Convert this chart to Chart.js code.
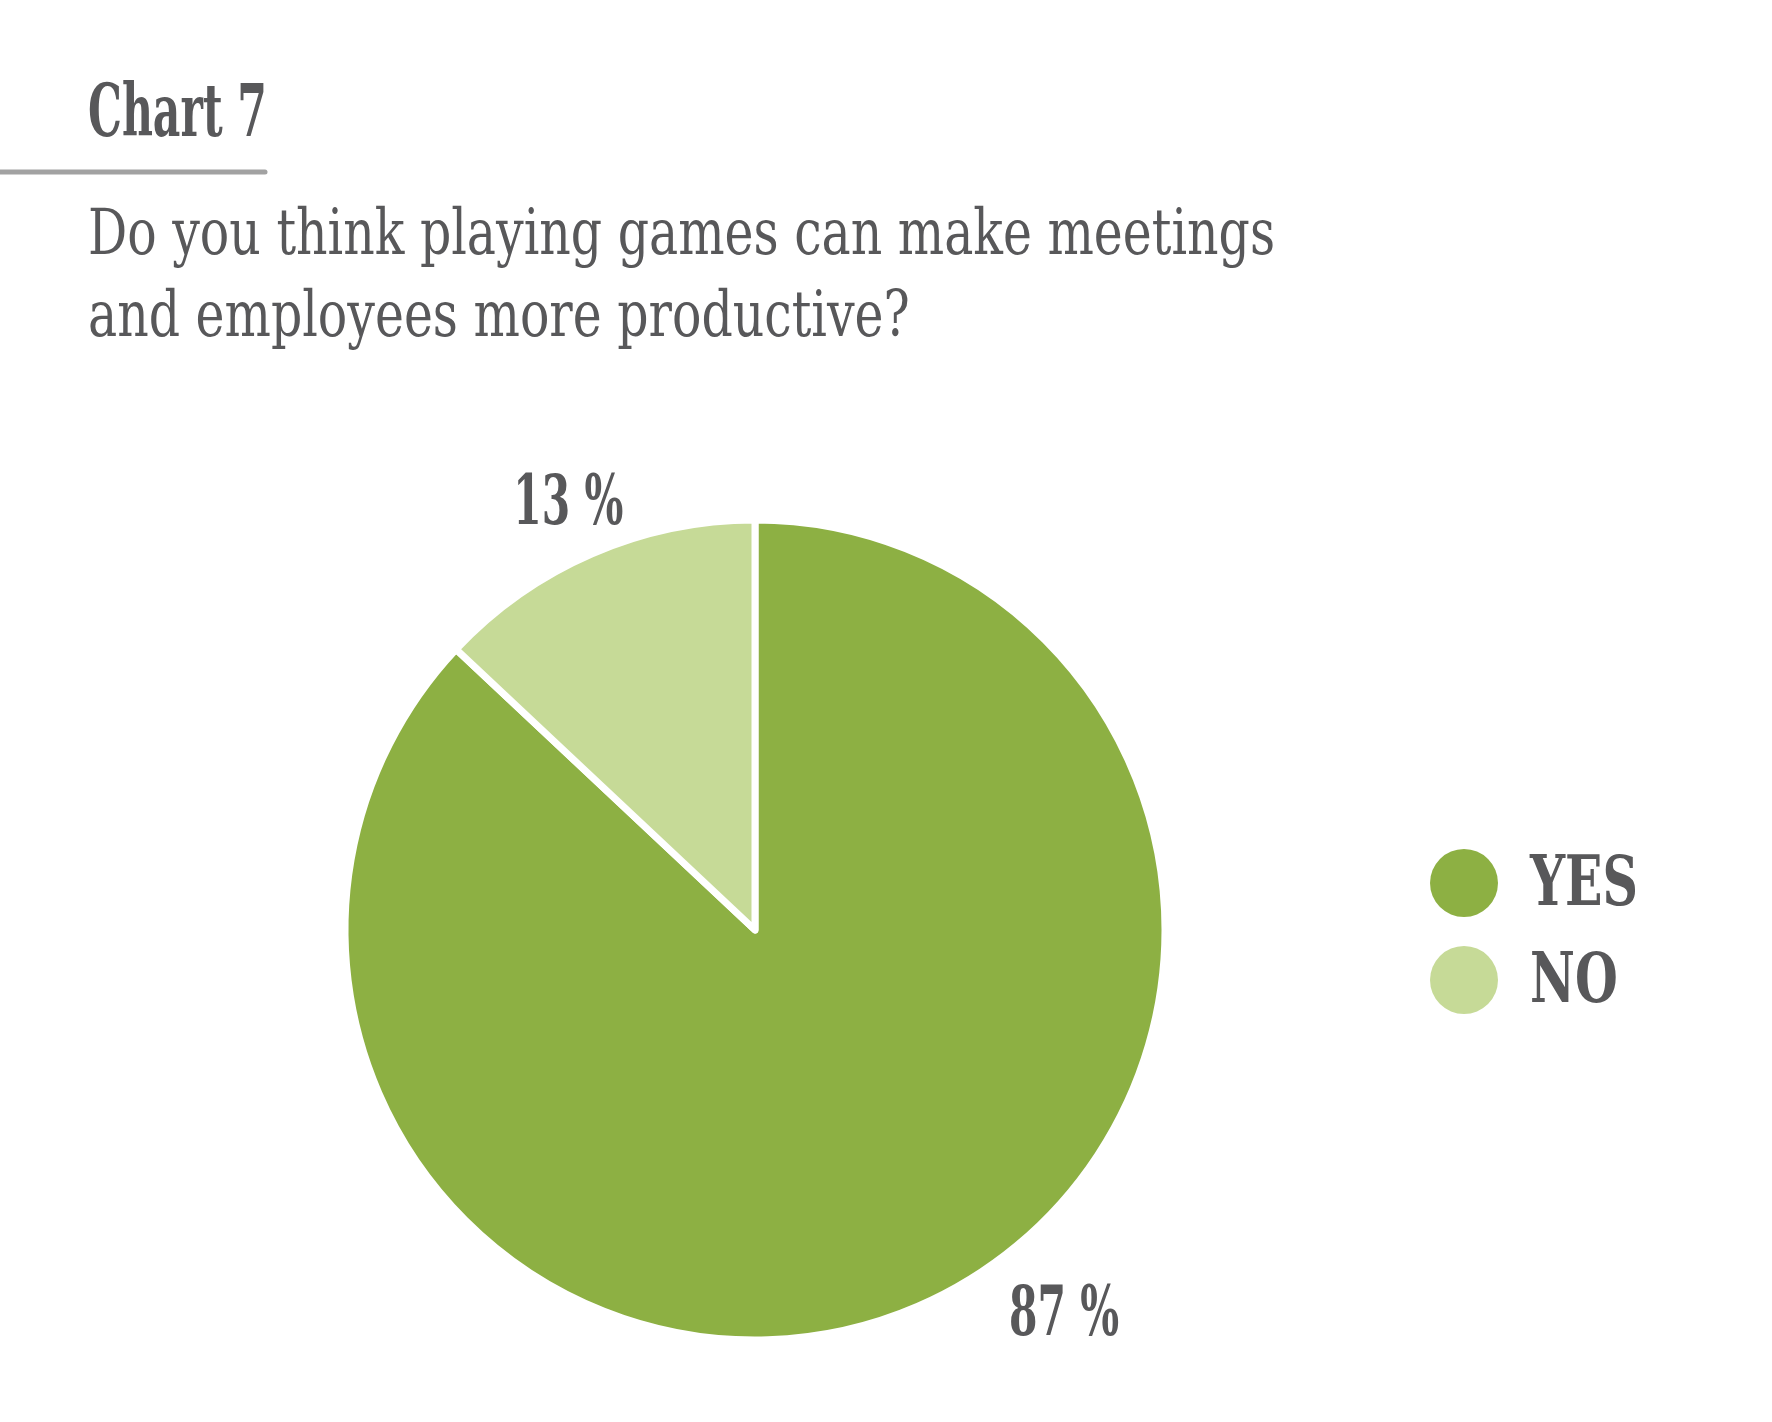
<!DOCTYPE html>
<html>
<head>
<meta charset="utf-8">
<script src="https://cdn.jsdelivr.net/npm/chart.js@4.4.1/dist/chart.umd.min.js"></script>
<style>
  html, body { margin: 0; padding: 0; background: #ffffff; }
  #wrap { width: 1772px; height: 1422px; position: relative; }
</style>
</head>
<body>
<div id="wrap"><canvas id="c" width="1772" height="1422"></canvas></div>
<script>
// Survey answers
const categories = ['YES', 'NO'];
const shares = [87, 13];
const sliceColors = ['#8db043', '#c6da97'];
const valueLabels = ['87 %', '13 %'];
const chartNumber = 'Chart 7';
const questionLines = [
  'Do you think playing games can make meetings',
  'and employees more productive?'
];

const TEXT_COLOR = '#58585a';
const FAMILY = '"DejaVu Serif Condensed", "DejaVu Serif", serif';

// Draws text squeezed horizontally so the slab serif reads as a condensed face
function condensedText(ctx, text, x, y, font, sx, align) {
  ctx.save();
  ctx.font = font;
  ctx.fillStyle = TEXT_COLOR;
  ctx.textAlign = align || 'left';
  ctx.textBaseline = 'alphabetic';
  ctx.translate(x, y);
  ctx.scale(sx, 1);
  ctx.fillText(text, 0, 0);
  ctx.restore();
}

function widthOf(ctx, text, font) {
  ctx.save();
  ctx.font = font;
  const w = ctx.measureText(text).width;
  ctx.restore();
  return w;
}

const decorations = {
  id: 'decorations',
  afterDraw(chart, args, opts) {
    const ctx = chart.ctx;
    const boldFont = 'bold 70px ' + FAMILY;
    const headFont = 'bold 73px ' + FAMILY;
    const questionFont = '64px ' + FAMILY;

    // Heading and rule
    const headScale = 179 / widthOf(ctx, chartNumber, headFont);
    condensedText(ctx, chartNumber, 88, 136, headFont, headScale);
    ctx.save();
    ctx.strokeStyle = '#a2a2a2';
    ctx.lineWidth = 5;
    ctx.lineCap = 'round';
    ctx.beginPath();
    ctx.moveTo(-5, 172);
    ctx.lineTo(265, 172);
    ctx.stroke();
    ctx.restore();

    // Question
    const qScale = 1187 / widthOf(ctx, questionLines[0], questionFont);
    questionLines.forEach((line, i) => {
      condensedText(ctx, line, 88, 254 + i * 82, questionFont, qScale);
    });

    // Value labels placed around each slice
    const boldScale = 110 / widthOf(ctx, '13 %', boldFont);
    const meta = chart.getDatasetMeta(0);
    meta.data.forEach((arc, i) => {
      const p = arc.getProps(['x', 'y', 'startAngle', 'endAngle', 'outerRadius']);
      const place = opts.placement[i];
      const a = (p.startAngle + p.endAngle) / 2 + place.turn * Math.PI / 180;
      const lx = p.x + Math.cos(a) * place.dist;
      const ly = p.y + Math.sin(a) * place.dist;
      condensedText(ctx, valueLabels[i], lx, ly + 25, boldFont, boldScale, 'center');
    });

    // Legend
    const ds = chart.data.datasets[0];
    const legendScale = 108 / widthOf(ctx, chart.data.labels[0], boldFont);
    chart.data.labels.forEach((lab, i) => {
      const cy = 883 + i * 97;
      ctx.save();
      ctx.fillStyle = ds.backgroundColor[i];
      ctx.beginPath();
      ctx.arc(1464, cy, 34, 0, Math.PI * 2);
      ctx.fill();
      ctx.restore();
      condensedText(ctx, lab, 1530, cy + 22, boldFont, legendScale, 'left');
    });
  }
};

new Chart(document.getElementById('c'), {
  type: 'pie',
  data: {
    labels: categories,
    datasets: [{
      data: shares,
      backgroundColor: sliceColors,
      borderColor: '#ffffff',
      borderWidth: 7,
      borderJoinStyle: 'round'
    }]
  },
  options: {
    responsive: false,
    animation: false,
    devicePixelRatio: 1,
    radius: 410,
    layout: { padding: { left: 348, right: 610, top: 523, bottom: 85 } },
    plugins: {
      legend: { display: false },
      tooltip: { enabled: false },
      decorations: {
        placement: [ { turn: -15.7, dist: 490 }, { turn: 0, dist: 470 } ]
      }
    }
  },
  plugins: [decorations]
});
</script>
</body>
</html>
